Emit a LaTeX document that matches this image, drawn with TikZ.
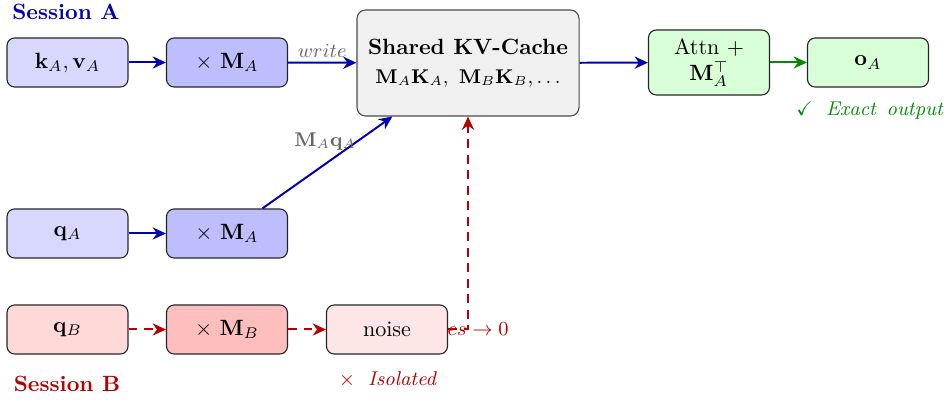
\documentclass[tikz,border=0pt]{standalone}
\usepackage{amsmath,amssymb}
\usetikzlibrary{arrows.meta,positioning}
\pgfdeclarelayer{background}
\pgfsetlayers{background,main}
\definecolor{ablue}{RGB}{0,0,180}
\definecolor{bred}{RGB}{180,0,0}
\definecolor{cgreen}{RGB}{0,140,0}
\definecolor{lblA}{RGB}{216,216,255}
\definecolor{mblA}{RGB}{190,190,255}
\definecolor{lrB}{RGB}{255,216,216}
\definecolor{mrB}{RGB}{255,190,190}
\definecolor{nrB}{RGB}{255,230,230}
\definecolor{lgr}{RGB}{216,255,216}
\definecolor{cachegray}{RGB}{240,240,240}
\tikzset{
  box/.style={draw=black!85, line width=0.5pt, rounded corners=3.5pt, minimum width=54.75pt, minimum height=22.2pt, align=center, inner sep=1pt},
  arrA/.style={draw=ablue, line width=0.9pt, -{Stealth[length=6pt,width=5.5pt]}},
  arrG/.style={draw=cgreen, line width=0.9pt, -{Stealth[length=6pt,width=5.5pt]}},
  arrB/.style={draw=bred, line width=0.9pt, dashed, dash pattern=on 4pt off 3pt, -{Stealth[length=6pt,width=5.5pt]}},
  lbl/.style={font=\small, text=black!60},
}
\begin{document}
\begin{tikzpicture}[x=0.4525pt, y=-0.4525pt]
\useasboundingbox (0,0) rectangle (949,400);
% Session A
\node[font=\bfseries, text=ablue] (sA) at (66,12) {Session A};
\node[box, fill=lblA] (kv) at (67.5,62.5) {$\mathbf{k}_A, \mathbf{v}_A$};
\node[box, fill=mblA] (mA1) at (227,62.5) {$\times$ $\mathbf{M}_A$};
\node[box, fill=cachegray, draw=black!70, minimum width=100.5pt, minimum height=48pt, rounded corners=4pt] (cache) at (468,63)
  {\textbf{Shared KV-Cache}\\[1pt] \small$\mathbf{M}_A\mathbf{K}_A,\ \mathbf{M}_B\mathbf{K}_B,\ldots$};
\node[box, fill=lgr, minimum height=29.4pt] (attn) at (709,62.5) {Attn +\\[0pt] $\mathbf{M}_A^{\top}$};
\node[box, fill=lgr] (oA) at (868,62.5) {$\mathbf{o}_A$};
\node[font=\small, text=cgreen] (exact) at (870,111) {$\checkmark$\hspace{6pt}\textit{Exact\, output}};
\node[box, fill=lblA] (qA) at (67.5,233.5) {$\mathbf{q}_A$};
\node[box, fill=mblA] (mA2) at (227,233.5) {$\times$ $\mathbf{M}_A$};
% Session B
\node[box, fill=lrB] (qB) at (67.5,329.5) {$\mathbf{q}_B$};
\node[box, fill=mrB] (mB) at (227,329.5) {$\times$ $\mathbf{M}_B$};
\node[box, fill=nrB] (noise) at (387,329.5) {noise};
\node[font=\bfseries, text=bred] (sB) at (67,384) {Session B};
\node[font=\small, text=bred] (iso) at (388,380) {$\times$\hspace{6pt}\textit{Isolated}};
% connectors
\draw[arrA] (kv) -- (mA1);
\draw[arrA] (mA1) -- node[lbl, above, inner sep=2pt] {$write$} (cache);
\draw[arrA] (cache) -- (attn);
\draw[arrG] (attn) -- (oA);
\draw[arrA] (qA) -- (mA2);
\draw[arrA] (mA2) -- node[lbl, pos=0.5, anchor=south, yshift=4pt, xshift=-1pt, inner sep=1pt] {$\mathbf{M}_A\mathbf{q}_A$} (cache);
\draw[arrB] (qB) -- (mB);
\draw[arrB] (mB) -- (noise);
\begin{pgfonlayer}{background}
\draw[arrB] (noise.east) -| node[pos=0.5, font=\small, text=bred, xshift=-4pt] {$scores \to 0$} (cache.south);
\end{pgfonlayer}
\end{tikzpicture}
\end{document}
